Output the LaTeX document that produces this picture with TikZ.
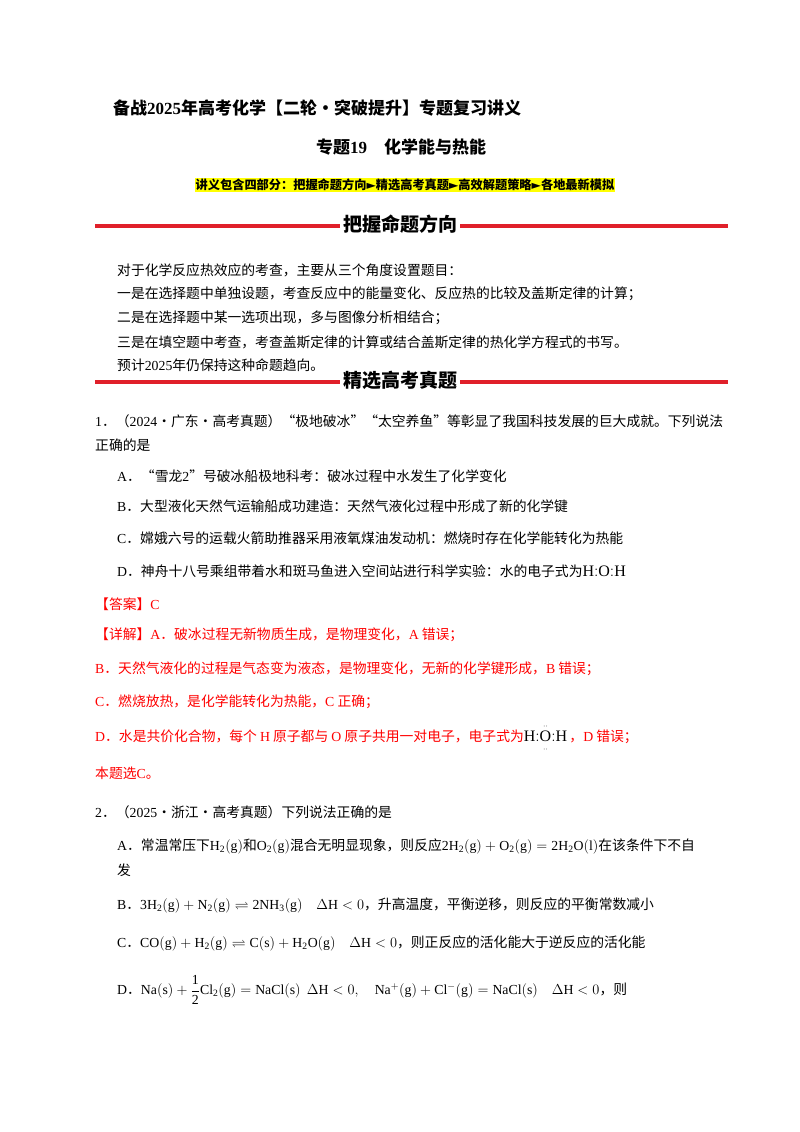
\documentclass[tikz,border=0pt]{standalone}
\usepackage{amsmath,amssymb}
\usepackage{fontspec}
\setmainfont{Noto Sans CJK SC}
\setmathrm{Liberation Serif}
\newfontfamily\lat{Liberation Serif}
\newfontfamily\dv{DejaVu Sans}
\definecolor{myred}{HTML}{FF0000}
\definecolor{linered}{HTML}{E0202A}
\definecolor{hl}{HTML}{FFFF00}
\newcommand{\tri}{{\dv\char"25BA}}
\newcommand{\dotO}{\overset{\scriptscriptstyle\cdot\cdot}{\underset{\scriptscriptstyle\cdot\cdot}{\mathrm{O}}}}
\tikzset{txt/.style={anchor=west,inner sep=0pt,font=\fontsize{13.8}{14}\selectfont},
 rtxt/.style={txt,text=myred},
 sec/.style={fill=white,inner sep=3pt,font=\fontsize{19}{20}\selectfont\bfseries},
 rule/.style={linered,line width=3.5pt}}
\begin{document}
\begin{tikzpicture}[x=1pt,y=-1pt]
\useasboundingbox[fill=white] (0,0) rectangle (800,1132);
\node[txt,font=\fontsize{17}{18}\selectfont\bfseries] (t1) at (113,108) {备战{\lat\bfseries 2025}年高考化学【二轮·突破提升】专题复习讲义};
\node[anchor=center,inner sep=0,font=\fontsize{17}{18}\selectfont\bfseries] (t2) at (401,147) {专题{\lat\bfseries 19}\quad 化学能与热能};
\node[anchor=center,inner sep=1pt,fill=hl,font=\fontsize{12.2}{13}\selectfont\bfseries] (t3) at (405,185) {讲义包含四部分：把握命题方向\tri 精选高考真题\tri 高效解题策略\tri 各地最新模拟};
% section 1
\coordinate (l1a) at (95,226); \coordinate (l1b) at (728,226);
\draw[rule] (l1a) -- (l1b);
\node[sec] (s1) at (400,224) {把握命题方向};
\node[txt] (p1) at (117,270) {对于化学反应热效应的考查，主要从三个角度设置题目：};
\node[txt] (p2) at (117,294) {一是在选择题中单独设题，考查反应中的能量变化、反应热的比较及盖斯定律的计算；};
\node[txt] (p3) at (117,318) {二是在选择题中某一选项出现，多与图像分析相结合；};
\node[txt] (p4) at (117,342) {三是在填空题中考查，考查盖斯定律的计算或结合盖斯定律的热化学方程式的书写。};
\node[txt] (p5) at (117,365) {预计{\lat 2025}年仍保持这种命题趋向。};
% section 2
\coordinate (l2a) at (95,382); \coordinate (l2b) at (728,382);
\draw[rule] (l2a) -- (l2b);
\node[sec] (s2) at (400,380) {精选高考真题};
\node[txt] (q1) at (95,421) {{\lat 1}．（{\lat 2024}·广东·高考真题）“极地破冰”“太空养鱼”等彰显了我国科技发展的巨大成就。下列说法};
\node[txt] (q1b) at (95,445) {正确的是};
\node[txt] (qa) at (117,476) {{\lat A}．“雪龙{\lat 2}”号破冰船极地科考：破冰过程中水发生了化学变化};
\node[txt] (qb) at (117,506) {{\lat B}．大型液化天然气运输船成功建造：天然气液化过程中形成了新的化学键};
\node[txt] (qc) at (117,538) {{\lat C}．嫦娥六号的运载火箭助推器采用液氧煤油发动机：燃烧时存在化学能转化为热能};
\node[txt] (qd) at (117,571) {{\lat D}．神舟十八号乘组带着水和斑马鱼进入空间站进行科学实验：水的电子式为{\fontsize{16}{16}\selectfont$\mathrm{H}{:}\mathrm{O}{:}\mathrm{H}$}};
\node[rtxt] (ans) at (95,604) {【答案】{\lat C}};
\node[rtxt] (e1) at (95,635) {【详解】{\lat A}．破冰过程无新物质生成，是物理变化，{\lat A} 错误；};
\node[rtxt] (e2) at (95,669) {{\lat B}．天然气液化的过程是气态变为液态，是物理变化，无新的化学键形成，{\lat B} 错误；};
\node[rtxt] (e3) at (95,702) {{\lat C}．燃烧放热，是化学能转化为热能，{\lat C} 正确；};
\node[rtxt] (e4) at (95,738) {{\lat D}．水是共价化合物，每个 {\lat H} 原子都与 {\lat O} 原子共用一对电子，电子式为{\color{black}\fontsize{16}{16}\selectfont$\mathrm{H}{:}\dotO{:}\mathrm{H}$}\,，{\lat D} 错误；};
\node[rtxt] (e5) at (95,773) {本题选{\lat C}。};
\node[txt] (q2) at (95,812) {{\lat 2}．（{\lat 2025}·浙江·高考真题）下列说法正确的是};
\node[txt] (q2a) at (117,846) {{\lat A}．常温常压下$\mathrm{H_2(g)}$和$\mathrm{O_2(g)}$混合无明显现象，则反应$\mathrm{2H_2(g)+O_2(g)=2H_2O(l)}$在该条件下不自};
\node[txt] (q2a2) at (117,870) {发};
\node[txt] (q2b) at (117,905) {{\lat B}．$\mathrm{3H_2(g)+N_2(g)\rightleftharpoons 2NH_3(g)}\quad \Delta\mathrm{H}<0$，升高温度，平衡逆移，则反应的平衡常数减小};
\node[txt] (q2c) at (117,943) {{\lat C}．$\mathrm{CO(g)+H_2(g)\rightleftharpoons C(s)+H_2O(g)}\quad \Delta\mathrm{H}<0$，则正反应的活化能大于逆反应的活化能};
\node[txt] (q2d) at (117,990) {{\lat D}．$\mathrm{Na(s)+\dfrac{1}{2}Cl_2(g)=NaCl(s)}\ \ \Delta\mathrm{H}<0,\quad \mathrm{Na^+(g)+Cl^-(g)=NaCl(s)}\quad \Delta\mathrm{H}<0$，则};
\end{tikzpicture}
\end{document}
